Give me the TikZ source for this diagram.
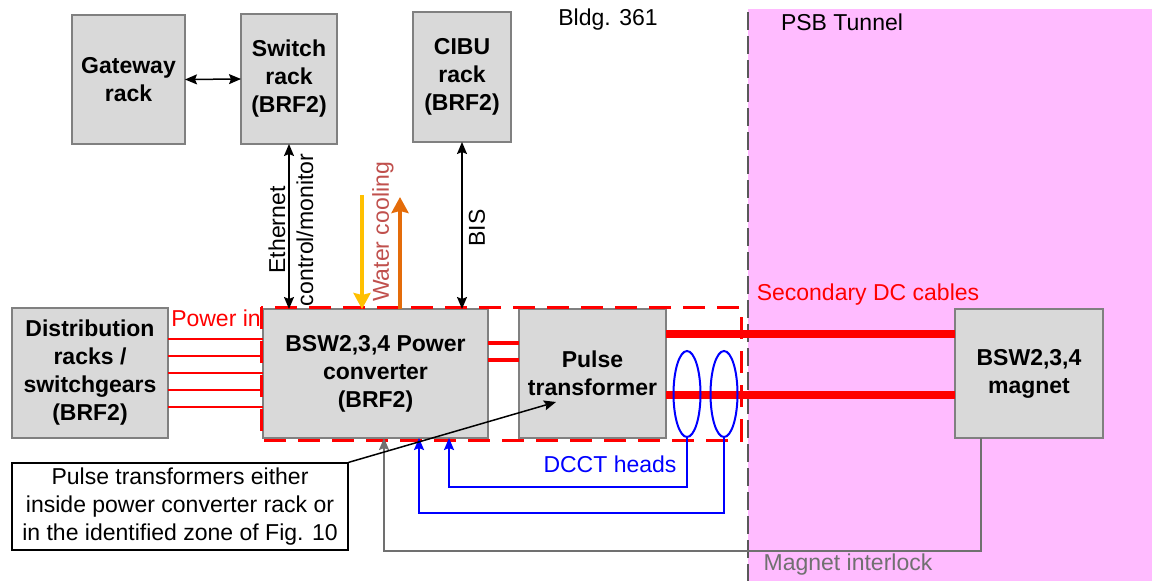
\documentclass[tikz,border=0pt]{standalone}
\usepackage{fontspec}
\setmainfont{Liberation Sans}
\usetikzlibrary{arrows.meta,shapes.geometric}
\definecolor{rackfill}{RGB}{217,217,217}
\definecolor{rackedge}{RGB}{128,128,128}
\definecolor{tunnel}{RGB}{255,187,255}
\definecolor{wallgray}{RGB}{89,89,89}
\definecolor{coldin}{RGB}{255,192,0}
\definecolor{hotout}{RGB}{228,108,10}
\definecolor{waterlbl}{RGB}{192,80,77}
\definecolor{ilkgray}{RGB}{112,112,112}
\definecolor{dcctblue}{RGB}{0,0,255}
\definecolor{cablered}{RGB}{255,0,0}
\tikzset{
  rack/.style={draw=rackedge,fill=rackfill,line width=1.5pt,align=center,
    font=\bfseries,inner sep=0pt,outer sep=0pt},
  dcct/.style={ellipse,draw=dcctblue,line width=2pt,minimum width=27pt,
    minimum height=86pt,inner sep=0pt},
  sig/.style={line width=1.5pt},
  water/.style={line width=4pt,-{Stealth[length=16pt,width=17pt,inset=2pt]}},
  powerline/.style={cablered,line width=2.5pt},
  dcline/.style={cablered,line width=8pt},
}
\begin{document}
\fontsize{23}{28}\selectfont
\begin{tikzpicture}[x=1pt,y=-1pt,>={Stealth[length=12pt,width=10pt,inset=2pt]}]
  \useasboundingbox (0,0) rectangle (1152,581);
  % tunnel side
  \fill[tunnel] (748,9) rectangle (1152,581);
  \draw[wallgray,line width=2pt,dash pattern=on 18pt off 6pt] (748,12) -- (748,581);
  \node (bldg) at (608,20) {Bldg. 361};
  \node (psb) at (842,22) {PSB Tunnel};

  % racks
  \node[rack,minimum width=113pt,minimum height=129pt] (gateway) at (128.5,79.5) {Gateway\\rack};
  \node[rack,minimum width=96pt,minimum height=130pt] (switch) at (289,79) {Switch\\rack\\(BRF2)};
  \node[rack,minimum width=98pt,minimum height=130pt] (cibu) at (462,77) {CIBU\\rack\\(BRF2)};
  \node[rack,minimum width=156pt,minimum height=130pt] (dist) at (90,373) {Distribution\\racks /\\switchgears\\(BRF2)};
  \node[rack,minimum width=225pt,minimum height=129pt] (conv) at (375.5,373.5) {BSW2,3,4 Power\\converter\\(BRF2)};
  \node[rack,minimum width=147pt,minimum height=129pt] (pulse) at (592.5,373.5) {Pulse\\transformer};
  \node[rack,minimum width=148pt,minimum height=129pt] (magnet) at (1029,373.5) {BSW2,3,4\\magnet};

  % power in
  \foreach \dy in {-34,-17,0,17,34}{
    \coordinate (pin) at ([yshift=\dy pt]dist.east);
    \draw[powerline] (pin) -- (pin -| conv.west);
  }
  \node[text=cablered] (powerin) at (216,318) {Power in};
  \foreach \dy in {30.5,13.5}{
    \coordinate (pri) at ([yshift=\dy pt]conv.east);
    \draw[cablered,line width=4pt] (pri) -- (pri -| pulse.west);
  }
  \foreach \dy in {39.5,-21.5}{
    \coordinate (sec) at ([yshift=\dy pt]pulse.east);
    \draw[dcline] (sec) -- (sec -| magnet.west);
  }
  \node[text=cablered] (seclbl) at (868,295) {Secondary DC cables};

  % pulse transformer zone
  \draw[cablered,line width=3pt,dash pattern=on 22pt off 12pt] (261,307) rectangle (741,440);

  % controls
  \draw[sig,<->] (gateway.east) -- (switch.west);
  \draw[sig,<->] (switch.south) -- (switch.south |- conv.north);
  \node[rotate=90,align=center] (ethlbl) at (291,230) {Ethernet\\control/monitor};
  \draw[sig,<->] (cibu.south) -- (cibu.south |- conv.north);
  \node[rotate=90] (bislbl) at (477,228) {BIS};
  \coordinate (wcin) at (362,195);
  \coordinate (wcout) at (400,197);
  \draw[water,coldin] (wcin) -- (wcin |- conv.north);
  \draw[water,hotout] (wcout |- conv.north) -- (wcout);
  \node[rotate=90,text=waterlbl] (wclbl) at (383,232) {Water cooling};

  % DCCT heads
  \node[dcct] (dccta) at (687,394) {};
  \node[dcct] (dcctb) at (724,394) {};
  \draw[dcctblue,line width=2pt,->] (dccta.south) -- ++(0,49) -| ([xshift=73.5pt]conv.south);
  \draw[dcctblue,line width=2pt,->] (dcctb.south) -- ++(0,75) -| ([xshift=43.5pt]conv.south);
  \node[text=dcctblue] (dcctlbl) at (610,464) {DCCT heads};

  % magnet interlock
  \draw[ilkgray,line width=2pt,->] ([xshift=-48pt]magnet.south) -- ++(0,113) -| ([xshift=8.5pt]conv.south);
  \node[text=ilkgray] (ilklbl) at (848,565) {Magnet interlock};

  % note
  \node[draw,line width=1.3pt,fill=white,align=center,minimum width=336pt,minimum height=87pt,inner sep=0pt] (note) at (180,506.5)
    {Pulse transformers either\\inside power converter rack or\\in the identified zone of Fig. 10};
  \coordinate (pttip) at (556,402);
  \draw[sig,->] (note.north east) -- (pttip);
\end{tikzpicture}
\end{document}
